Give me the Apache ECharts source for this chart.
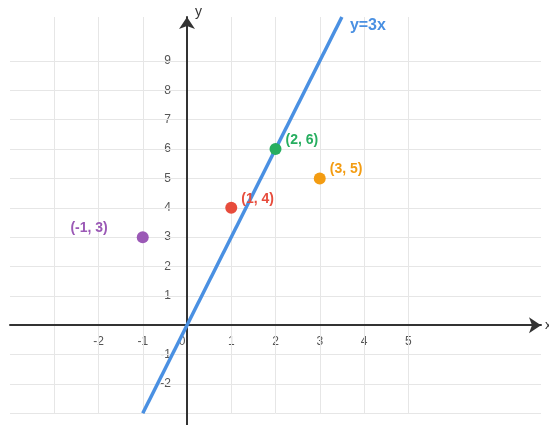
<!DOCTYPE html>
<html>
<head>
<meta charset="utf-8">
<script src="https://cdn.jsdelivr.net/npm/echarts@6/dist/echarts.min.js"></script>
<style>
  html, body { margin: 0; padding: 0; background: #fff; }
  #chart { width: 549px; height: 425px; }
</style>
</head>
<body>
<div id="chart"></div>
<script>
// tick labels shown on each axis
const xTickLabels = [-2, -1, 0, 1, 2, 3, 4, 5];
const yTickLabels = [-2, -1, 1, 2, 3, 4, 5, 6, 7, 8, 9];

// light grid lines
const gridXs = [-3, -2, -1, 1, 2, 3, 4, 5];
const gridYs = [-3, -2, -1, 1, 2, 3, 4, 5, 6, 7, 8, 9];

// the line y = 3x, drawn between two points
const lineX = [-1, 3.5];
const lineY = [-3, 10.5];

// labelled points
const pointX = [-1, 1, 2, 3];
const pointY = [3, 4, 6, 5];
const pointNames = ["(-1, 3)", "(1, 4)", "(2, 6)", "(3, 5)"];
const pointColors = ["#9b59b6", "#e74c3c", "#27ae60", "#f39c12"];

const X_MIN = -4, X_MAX = 8, Y_MIN = -3.4, Y_MAX = 10.5;

var gridLines = [];
gridXs.forEach(function (x) {
  gridLines.push([{ coord: [x, -3] }, { coord: [x, Y_MAX] }]);
});
gridYs.forEach(function (y) {
  gridLines.push([{ coord: [X_MIN, y] }, { coord: [X_MAX, y] }]);
});

var pointData = pointX.map(function (x, i) {
  var left = x < 0;
  return {
    value: [x, pointY[i]],
    itemStyle: { color: pointColors[i], opacity: 1 },
    label: {
      show: true,
      formatter: pointNames[i],
      color: pointColors[i],
      fontWeight: "bold",
      fontSize: 14,
      position: left ? "left" : "right",
      distance: left ? 29 : 4,
      offset: [0, -9]
    }
  };
});

// axis numbers placed next to the axes through the same scales
var xLabelData = xTickLabels.map(function (v) {
  // the origin's 0 sits a little left of the y axis
  return { value: [v, 0], label: { formatter: String(v), offset: [v === 0 ? -5 : 0, 16] } };
});
var yLabelData = yTickLabels.map(function (v) {
  return { value: [0, v], label: { formatter: String(v) } };
});

var tickLabelStyle = { show: true, color: "#555", fontSize: 12 };

var chart = echarts.init(document.getElementById("chart"));
chart.setOption({
  animation: false,
  textStyle: { fontFamily: "'Liberation Sans', Arial, sans-serif" },
  grid: { left: 10, right: 8, top: 17, bottom: 0, outerBoundsMode: "none", containLabel: false },
  xAxis: {
    type: "value",
    min: X_MIN,
    max: X_MAX,
    z: 5,
    name: "x",
    nameGap: 4,
    nameTextStyle: { color: "#333", fontSize: 13 },
    axisLine: {
      onZero: true,
      symbol: ["none", "arrow"],
      symbolSize: [12, 12],
      lineStyle: { color: "#333", width: 2 }
    },
    axisTick: { show: false },
    splitLine: { show: false },
    axisLabel: { show: false }
  },
  yAxis: {
    type: "value",
    min: Y_MIN,
    max: Y_MAX,
    z: 5,
    name: "y",
    nameGap: -2,
    nameTextStyle: { color: "#333", fontSize: 14, align: "left", padding: [0, 0, 0, 8] },
    axisLine: {
      onZero: true,
      symbol: ["none", "arrow"],
      symbolSize: [12, 12],
      lineStyle: { color: "#333", width: 2 }
    },
    axisTick: { show: false },
    splitLine: { show: false },
    axisLabel: { show: false }
  },
  series: [
    {
      type: "line",
      data: [],
      z: 1,
      silent: true,
      markLine: {
        silent: true,
        symbol: ["none", "none"],
        label: { show: false },
        lineStyle: { color: "#e6e6e6", width: 1, type: "solid" },
        data: gridLines
      }
    },
    {
      type: "scatter",
      z: 4,
      silent: true,
      symbolSize: 0,
      itemStyle: { opacity: 1 },
      data: xLabelData,
      label: Object.assign({ position: "inside" }, tickLabelStyle)
    },
    {
      type: "scatter",
      z: 4,
      silent: true,
      symbolSize: 0,
      itemStyle: { opacity: 1 },
      data: yLabelData,
      label: Object.assign({ position: "left", distance: 16 }, tickLabelStyle)
    },
    {
      type: "line",
      z: 10,
      data: lineX.map(function (x, i) { return [x, lineY[i]]; }),
      showSymbol: false,
      lineStyle: { color: "#4a90e2", width: 3.5 },
      endLabel: {
        show: true,
        formatter: "y=3x",
        color: "#4a90e2",
        fontWeight: "bold",
        fontSize: 16,
        offset: [0, 9]
      }
    },
    {
      type: "scatter",
      z: 11,
      symbolSize: 12,
      data: pointData
    }
  ]
});
</script>
</body>
</html>
